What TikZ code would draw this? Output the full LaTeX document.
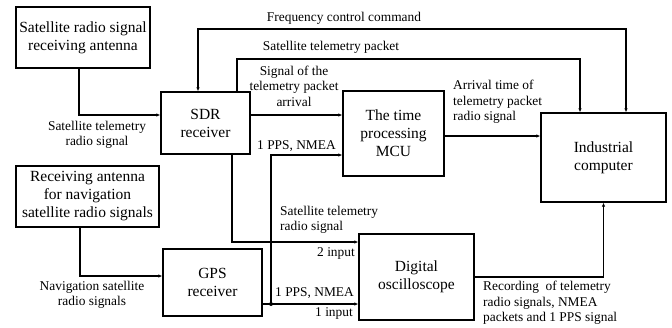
\documentclass[tikz,border=0pt]{standalone}
\usepackage{fontspec}
\setmainfont{Liberation Serif}
\usetikzlibrary{arrows.meta,calc}

\begin{document}
\begin{tikzpicture}[x=1pt,y=-1pt,
  box/.style={draw,line width=1.4pt,inner sep=0pt,align=center,
    font=\fontsize{15.5}{18}\selectfont},
  lbl/.style={font=\fontsize{13.4}{15.5}\selectfont,inner sep=0pt},
  link/.style={line width=1.2pt,-{Latex[length=4pt,width=3.5pt]}},
  dlink/.style={line width=1.2pt,{Latex[length=4pt,width=3.5pt]}-{Latex[length=4pt,width=3.5pt]}}]
\useasboundingbox (0,0) rectangle (672,327);

% blocks
\node[box,minimum width=134pt,minimum height=61pt] (ant1) at (83,37.5)
  {Satellite radio signal\\receiving antenna};
\node[box,minimum width=89pt,minimum height=62pt] (sdr) at (205.5,123)
  {SDR\\receiver};
\node[box,minimum width=101pt,minimum height=85pt] (mcu) at (393.5,133.5)
  {The time\\processing\\MCU};
\node[box,minimum width=125pt,minimum height=89pt] (pc) at (603.5,157.5)
  {Industrial\\computer};
\node[box,minimum width=143pt,minimum height=61pt] (ant2) at (87.5,196.5)
  {Receiving antenna\\for navigation\\satellite radio signals};
\node[box,minimum width=99pt,minimum height=67pt] (gps) at (212.5,282.5)
  {GPS\\receiver};
\node[box,minimum width=115pt,minimum height=86pt] (osc) at (416.5,277)
  {Digital\\oscilloscope};

% routing levels
\coordinate (fcy) at (0,29);
\coordinate (tpy) at (0,59);
\coordinate (jn) at (271,304);

% connectors
\draw[link] ([xshift=-4pt]ant1.south) |- ([yshift=8pt]sdr.west);
\draw[dlink] ([xshift=22.5pt]pc.north) -- ([xshift=22.5pt]pc.north |- fcy)
  -| ([xshift=-7.5pt]sdr.north);
\draw[link] ([xshift=31.5pt]sdr.north) -- ([xshift=31.5pt]sdr.north |- tpy)
  -| ([xshift=-23.5pt]pc.north);
\draw[link] ([yshift=8pt]sdr.east) -- ([yshift=8pt]sdr.east -| mcu.west);
\draw[link] ([yshift=-2.5pt]mcu.east) -- ([yshift=-2.5pt]mcu.east -| pc.west);
\draw[link] ([xshift=26.5pt]sdr.south) |- ([yshift=35pt]osc.west);
\draw[link] ([yshift=-21.5pt]gps.east) -- ([yshift=-21.5pt]gps.east -| osc.west);
\draw[link] (jn) |- ([yshift=-21.5pt]mcu.west);
\fill (jn) circle (2pt);
\draw[link] ([xshift=-7.5pt]ant2.south) |- ([yshift=6.5pt]gps.west);
\draw[link] (osc.east) -| (pc.south);

% labels
\node[lbl] (lfc) at (344,18) {Frequency control command};
\node[lbl] (ltp) at (331,47) {Satellite telemetry packet};
\node[lbl,align=center] (lsa) at (294,86) {Signal of the\\telemetry packet\\arrival};
\node[lbl,align=center] (lsr1) at (97,135) {Satellite telemetry\\radio signal};
\node[lbl,anchor=west] (lpps1) at (257,146) {1 PPS, NMEA};
\node[lbl,align=left,anchor=west] (lat) at (453,102)
  {Arrival time of\\telemetry packet\\radio signal};
\node[lbl,align=left,anchor=west] (lsr2) at (280,220) {Satellite telemetry\\radio signal};
\node[lbl,anchor=east] (lin2) at (355,253) {2 input};
\node[lbl,anchor=east] (lpps2) at (354,293) {1 PPS, NMEA};
\node[lbl,anchor=east] (lin1) at (353,313) {1 input};
\node[lbl,align=center] (lnav) at (92,295) {Navigation satellite\\radio signals};
\node[lbl,align=left,anchor=west] (lrec) at (483,303)
  {Recording\ \ of telemetry\\radio signals, NMEA\\packets and 1 PPS signal};
\end{tikzpicture}
\end{document}
